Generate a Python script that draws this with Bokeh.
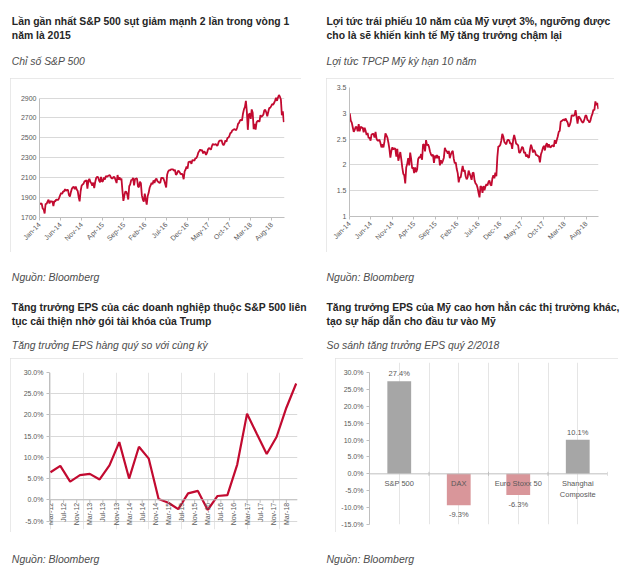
import numpy as np
import pandas as pd
from bokeh.plotting import figure
from bokeh.layouts import column, row
from bokeh.models import Range1d, FixedTicker, Span, PrintfTickFormatter, Spacer
from bokeh.core.properties import value
from bokeh.embed import file_html
from bokeh.resources import INLINE

FONT = "Liberation Sans"
RED = "#C20A30"
AXIS = "#BFBFBF"
GRID = "#D9D9D9"
TICKTXT = "#595959"
TITLE = "#262626"
SUB = "#4D4D4D"
BOX = "#E2E2E2"

# ---------------- data ----------------
# weekly (Friday) readings, starting 2014-01-03
sp500_start = "2014-01-03"
sp500 = [
    1831, 1842, 1838, 1790, 1782, 1741, 1838, 1836, 1859, 1878, 1841, 1866, 1857, 1865, 1815, 1864, 1863,
    1881, 1878, 1878, 1900, 1924, 1949, 1936, 1963, 1961, 1985, 1968, 1978, 1978, 1925, 1910, 1955, 1988,
    2003, 2007, 1985, 2010, 1982, 1967, 1906, 1862, 1964, 2018, 2032, 2039, 2064, 2068, 2075, 1990, 2070, 2088,
    2058, 2045, 2019, 2051, 1995, 2055, 2097, 2110, 2104, 2071, 2053, 2108, 2061, 2066, 2102, 2081, 2117,
    2108, 2116, 2122, 2126, 2107, 2092, 2094, 2110, 2102, 2076, 2046, 2127, 2079, 2104, 2078, 2092, 1971,
    1867, 1921, 1961, 1958, 1931, 1881, 2014, 2033, 2075, 2079, 2099, 2023, 2089, 2090, 2092, 2012, 2005, 2061,
    2044, 1922, 1880, 1859, 1940, 1880, 1829, 1917, 1948, 1999, 2022, 2049, 2035, 2073, 2047, 2081, 2092,
    2065, 2057, 2047, 2052, 2099, 2099, 2096, 2071, 2037, 2001, 2130, 2162, 2175, 2174, 2183, 2184, 2184,
    2169, 2180, 2128, 2139, 2165, 2168, 2153, 2133, 2141, 2126, 2085, 2164, 2182, 2213, 2192, 2260, 2258,
    2264, 2239,
    2277, 2275, 2271, 2295, 2297, 2316, 2351, 2367, 2383, 2372, 2378, 2344, 2363, 2355, 2329, 2349, 2384,
    2399, 2390, 2382, 2416, 2439, 2432, 2433, 2438, 2423, 2425, 2459, 2473, 2472, 2476, 2441, 2426, 2443,
    2477, 2461, 2500, 2502, 2519, 2549, 2553, 2575, 2581, 2588, 2582, 2579, 2602, 2642, 2652, 2675, 2683, 2674,
    2743, 2786, 2810, 2873, 2762, 2581, 2732, 2747, 2691, 2786, 2752, 2588, 2641, 2582, 2656, 2670, 2670,
    2663, 2728, 2713, 2721, 2735, 2779, 2780, 2755, 2718, 2760, 2801, 2802, 2819, 2840, 2833, 2850, 2875,
    2902, 2872, 2905, 2930, 2914, 2886, 2728, 2768, 2658,
]
sp500_yticks = [1700, 1900, 2100, 2300, 2500, 2700, 2900]

ust10_start = "2014-01-03"
ust10 = [
    3.00, 2.86, 2.82, 2.73, 2.64, 2.68, 2.74, 2.73, 2.65, 2.79, 2.65, 2.74, 2.72, 2.72, 2.63, 2.72, 2.66,
    2.58, 2.62, 2.52, 2.53, 2.47, 2.59, 2.60, 2.60, 2.53, 2.64, 2.51, 2.47, 2.47, 2.49, 2.42, 2.34, 2.40,
    2.34, 2.45, 2.61, 2.57, 2.53, 2.43, 2.31, 2.14, 2.27, 2.34, 2.30, 2.32, 2.31, 2.16, 2.31, 2.08, 2.16, 2.25,
    2.11, 1.95, 1.83, 1.80, 1.64, 1.95, 2.02, 2.13, 1.99, 2.24, 2.11, 1.93, 1.95, 1.84, 1.95, 1.86, 1.91,
    2.11, 2.15, 2.14, 2.21, 2.10, 2.40, 2.39, 2.26, 2.48, 2.38, 2.40, 2.35, 2.26, 2.20, 2.17, 2.20, 2.04,
    2.18, 2.13, 2.19, 2.13, 2.17, 1.99, 2.09, 2.03, 2.08, 2.14, 2.33, 2.28, 2.26, 2.22, 2.27, 2.13, 2.20, 2.25,
    2.27, 2.12, 2.03, 2.05, 1.92, 1.84, 1.66, 1.76, 1.76, 1.88, 1.98, 1.87, 1.90, 1.78, 1.72, 1.76, 1.89,
    1.83, 1.78, 1.71, 1.84, 1.85, 1.70, 1.64, 1.62, 1.56, 1.46, 1.37, 1.59, 1.57, 1.46, 1.59, 1.51, 1.58,
    1.63, 1.60, 1.67, 1.70, 1.62, 1.60, 1.74, 1.80, 1.74, 1.85, 1.78, 2.15, 2.36, 2.36, 2.39, 2.47, 2.60,
    2.55, 2.45,
    2.42, 2.40, 2.47, 2.49, 2.47, 2.41, 2.42, 2.31, 2.49, 2.58, 2.50, 2.41, 2.40, 2.38, 2.24, 2.24, 2.29,
    2.35, 2.33, 2.23, 2.25, 2.16, 2.20, 2.15, 2.14, 2.30, 2.39, 2.33, 2.24, 2.29, 2.26, 2.19, 2.19, 2.17,
    2.16, 2.05, 2.20, 2.26, 2.33, 2.37, 2.28, 2.38, 2.42, 2.34, 2.40, 2.35, 2.34, 2.37, 2.38, 2.35, 2.48, 2.41,
    2.48, 2.55, 2.64, 2.66, 2.84, 2.85, 2.87, 2.88, 2.86, 2.90, 2.85, 2.82, 2.74, 2.77, 2.83, 2.96, 2.96,
    2.95, 2.97, 3.06, 2.93, 2.80, 2.94, 2.92, 2.89, 2.85, 2.82, 2.83, 2.89, 2.96, 2.95, 2.87, 2.86, 2.82,
    2.86, 2.94, 2.99, 3.07, 3.06, 3.23, 3.16, 3.20, 3.08,
]
ust10_yticks = [1, 1.5, 2, 2.5, 3, 3.5]
ust10_ylabels = ["1", "1.5", "2", "2.5", "3", "3.5"]

date_axis_ticks = ["2014-01-01", "2014-06-01", "2014-11-01", "2015-04-01", "2015-09-01", "2016-02-01",
                   "2016-07-01", "2016-12-01", "2017-05-01", "2017-10-01", "2018-03-01", "2018-08-01"]
date_axis_labels = ["Jan-14", "Jun-14", "Nov-14", "Apr-15", "Sep-15", "Feb-16",
                    "Jul-16", "Dec-16", "May-17", "Oct-17", "Mar-18", "Aug-18"]

# quarterly EPS growth (%), Mar-12 ... Jun-18
eps_growth = [6.5, 8.0, 4.3, 5.8, 6.1, 4.8, 8.1, 13.6, 5.0, 12.5, 9.7, 0.2, -0.7, -2.2, 1.5, 2.1,
              -2.4, 0.9, 1.1, 8.3, 20.3, 15.5, 10.8, 14.8, 21.7, 27.4]
eps_xlabels = ["Mar-12", "Jul-12", "Nov-12", "Mar-13", "Jul-13", "Nov-13", "Mar-14", "Jul-14", "Nov-14",
               "Mar-15", "Jul-15", "Nov-15", "Mar-16", "Jul-16", "Nov-16", "Mar-17", "Jul-17", "Nov-17", "Mar-18"]
eps_yticks = [-5, 0, 5, 10, 15, 20, 25, 30]

bar_categories = ["S&P 500", "DAX", "Euro Stoxx 50", "Shanghai\nComposite"]
bar_values = [27.4, -9.3, -6.3, 10.1]
bar_yticks = [-15, -10, -5, 0, 5, 10, 15, 20, 25, 30]

titles = [
    ["Lần gần nhất S&P 500 sụt giảm mạnh 2 lần trong vòng 1", "năm là 2015"],
    ["Lợi tức trái phiếu 10 năm của Mỹ vượt 3%, ngưỡng được", "cho là sẽ khiến kinh tế Mỹ tăng trưởng chậm lại"],
    ["Tăng trưởng EPS của các doanh nghiệp thuộc S&P 500 liên", "tục cải thiện nhờ gói tài khóa của Trump"],
    ["Tăng trưởng EPS của Mỹ cao hơn hẳn các thị trường khác,", "tạo sự hấp dẫn cho đầu tư vào Mỹ"],
]
subtitles = ["Chỉ số S&P 500", "Lợi tức TPCP Mỹ kỳ hạn 10 năm",
             "Tăng trưởng EPS hàng quý so với cùng kỳ", "So sánh tăng trưởng EPS quý 2/2018"]
source_text = "Nguồn: Bloomberg"

# ---------------- helpers ----------------
origin = pd.Timestamp("2014-01-01")


def days_since(start, n):
    d = pd.date_range(start, periods=n, freq="W-FRI")
    return list((d - origin).days)


tick_days = [int((pd.Timestamp(t) - origin).days) for t in date_axis_ticks]


def style_axis(ax, tick_out=3):
    ax.axis_line_color = AXIS
    ax.major_tick_line_color = AXIS
    ax.minor_tick_line_color = None
    ax.major_tick_in = 0
    ax.major_tick_out = tick_out
    ax.major_label_text_font = FONT
    ax.major_label_text_font_size = "7px"
    ax.major_label_text_color = TICKTXT
    ax.major_label_standoff = 3


def chart_fig(box, frame, xr, yr, x_axis=True):
    bl, bt, br, bb = box
    fl, ft, fr, fb = frame
    p = figure(width=br - bl, height=bb - bt, x_range=xr, y_range=yr,
               min_border_left=fl - bl, min_border_right=br - fr,
               min_border_top=ft - bt, min_border_bottom=bb - fb,
               x_axis_location="below" if x_axis else None,
               output_backend="svg", toolbar_location=None,
               styles={"outline": f"1px solid {BOX}", "outline-offset": "-1px"})
    p.outline_line_color = None
    p.ygrid.grid_line_color = GRID
    if x_axis:
        p.xgrid.visible = False
        style_axis(p.xaxis[0])
    style_axis(p.yaxis[0], tick_out=0)
    return p


def text_fig(w, h, items):
    p = figure(width=w, height=h, x_range=Range1d(0, w), y_range=Range1d(h, 0), min_border=0,
               x_axis_location=None, y_axis_location=None, output_backend="svg", toolbar_location=None)
    p.outline_line_color = None
    p.xgrid.visible = False
    p.ygrid.visible = False
    for (x, y, txt, size, style, color) in items:
        p.text(x=[x], y=[y], text=[txt], text_font=value(FONT), text_font_size=size,
               text_font_style=style, text_color=color, text_align="left", text_baseline="alphabetic")
    return p


def panel(i, region, box, chart, x0, y_l1, y_l2, y_sub, y_src):
    pl, pt, pr, pb = region
    bl, bt, br, bb = box
    head = text_fig(pr - pl, bt - pt, [
        (x0 - pl, y_l1 - pt, titles[i][0], "10.4px", "bold", TITLE),
        (x0 - pl, y_l2 - pt, titles[i][1], "10.4px", "bold", TITLE),
        (x0 - pl, y_sub - pt, subtitles[i], "10.4px", "italic", SUB),
    ])
    foot = text_fig(pr - pl, pb - bb, [(x0 - pl, y_src - bb, source_text, "10.5px", "italic", SUB)])
    mid = row(Spacer(width=bl - pl, height=bb - bt), chart, Spacer(width=pr - br, height=bb - bt))
    return column(head, mid, foot)


# ---------------- panel 1: S&P 500 ----------------
box1, frame1 = (10, 78, 301, 252), (39, 93, 284, 217)
p1 = chart_fig(box1, frame1, Range1d(0, 1764), Range1d(1700, 2946))
p1.line(days_since(sp500_start, len(sp500)), sp500, line_color=RED, line_width=1.8)
p1.yaxis.ticker = FixedTicker(ticks=sp500_yticks)
p1.ygrid.ticker = FixedTicker(ticks=sp500_yticks)
p1.yaxis.bounds = (1700, 2900)
p1.xaxis.ticker = FixedTicker(ticks=tick_days)
p1.xaxis.major_label_overrides = {d: lab for d, lab in zip(tick_days, date_axis_labels)}
p1.xaxis.major_label_orientation = np.pi / 4
panel1 = panel(0, (0, 0, 320, 288), box1, p1, 11.3, 21, 35.3, 60.7, 276.7)

# ---------------- panel 2: US 10Y yield ----------------
box2, frame2 = (326, 78, 614, 252), (349, 87, 598, 216)
p2 = chart_fig(box2, frame2, Range1d(0, 1760), Range1d(1, 3.5))
p2.line(days_since(ust10_start, len(ust10)), ust10, line_color=RED, line_width=1.8)
p2.yaxis.ticker = FixedTicker(ticks=ust10_yticks)
p2.ygrid.ticker = FixedTicker(ticks=ust10_yticks)
p2.yaxis.major_label_overrides = {t: lab for t, lab in zip(ust10_yticks, ust10_ylabels)}
p2.xaxis.ticker = FixedTicker(ticks=tick_days)
p2.xaxis.major_label_overrides = {d: lab for d, lab in zip(tick_days, date_axis_labels)}
p2.xaxis.major_label_orientation = np.pi / 4
panel2 = panel(1, (320, 0, 640, 288), box2, p2, 326, 21, 35.3, 60.7, 276.7)

# ---------------- panel 3: EPS growth line ----------------
box3, frame3 = (10, 358, 303, 532), (49, 372, 297, 529)
p3 = chart_fig(box3, frame3, Range1d(-0.3, 75.4), Range1d(-7, 30), x_axis=False)
eps_x = [3 * i for i in range(len(eps_growth))]          # quarterly, months since Mar-12
p3.line(eps_x, eps_growth, line_color=RED, line_width=2.2)
p3.yaxis.ticker = FixedTicker(ticks=eps_yticks)
p3.ygrid.ticker = FixedTicker(ticks=eps_yticks)
p3.yaxis.formatter = PrintfTickFormatter(format="%.1f%%")
p3.yaxis.bounds = (-5, 30)
p3.yaxis.major_tick_out = 3
p3.add_layout(Span(location=0, dimension="width", line_color=AXIS, line_width=1))
lab_x = [4 * i for i in range(len(eps_xlabels))]
tick_len3 = 3 / 4.243
p3.segment(x0=lab_x, y0=[0] * len(lab_x), x1=lab_x, y1=[-tick_len3] * len(lab_x), line_color=AXIS, line_width=1)
p3.text(x=lab_x, y=[0] * len(lab_x), text=eps_xlabels, angle=np.pi / 2, text_align="right",
        text_baseline="middle", y_offset=3, text_font=value(FONT), text_font_size="7px", text_color=TICKTXT)
panel3 = panel(2, (0, 288, 320, 565), box3, p3, 11.3, 306.7, 320.8, 345.3, 558.5)

# ---------------- panel 4: EPS Q2/2018 bars ----------------
# frame extends 10px above the 30% line so the top data label is not clipped
box4, frame4 = (335, 358, 618, 532), (369, 362, 607, 524)
p4 = chart_fig(box4, frame4, Range1d(0, len(bar_categories)), Range1d(-15, 30 + 10 / 3.378), x_axis=False)
bx = [i + 0.5 for i in range(len(bar_categories))]
bar_colors = ["#A6A6A6" if v >= 0 else "#D9969A" for v in bar_values]
p4.vbar(x=bx, top=bar_values, bottom=0, width=0.4, fill_color=bar_colors, line_color=None)
p4.ygrid.visible = False
p4.yaxis.ticker = FixedTicker(ticks=bar_yticks)
p4.yaxis.formatter = PrintfTickFormatter(format="%.1f%%")
p4.yaxis.bounds = (-15, 30)
p4.yaxis.major_tick_out = 3
p4.add_layout(Span(location=0, dimension="width", line_color=AXIS, line_width=1))
bnd = list(range(len(bar_categories) + 1))
tick_len4 = 2 / 3.378
p4.segment(x0=bnd, y0=[tick_len4] * len(bnd), x1=bnd, y1=[-tick_len4] * len(bnd), line_color=AXIS, line_width=1)
p4.text(x=bx, y=[0] * len(bx), text=bar_categories, text_align="center", text_baseline="top", y_offset=5,
        text_font=value(FONT), text_font_size="7.5px", text_color=TICKTXT, text_line_height=1.25)
pos = [(x, v) for x, v in zip(bx, bar_values) if v >= 0]
neg = [(x, v) for x, v in zip(bx, bar_values) if v < 0]
p4.text(x=[a for a, _ in pos], y=[b for _, b in pos], text=[f"{b:.1f}%" for _, b in pos],
        text_align="center", text_baseline="bottom", y_offset=-3,
        text_font=value(FONT), text_font_size="7.5px", text_color=TICKTXT)
p4.text(x=[a for a, _ in neg], y=[b for _, b in neg], text=[f"{b:.1f}%" for _, b in neg],
        text_align="center", text_baseline="top", y_offset=5,
        text_font=value(FONT), text_font_size="7.5px", text_color=TICKTXT)
panel4 = panel(3, (320, 288, 640, 565), box4, p4, 326, 306.7, 320.8, 345.3, 558.5)

layout = column(row(panel1, panel2), row(panel3, panel4))
open("out.html", "w").write(file_html(layout, INLINE))
